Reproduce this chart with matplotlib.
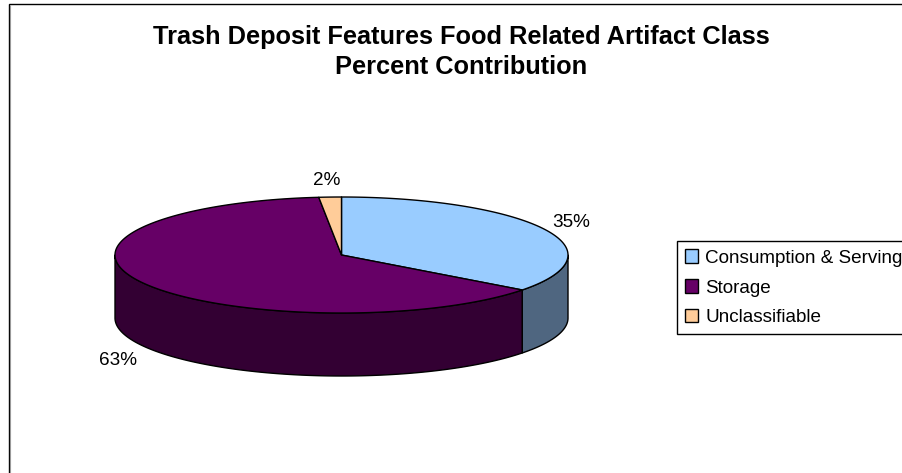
import numpy as np
import matplotlib
matplotlib.use("Agg")
import matplotlib.pyplot as plt
from matplotlib.patches import Polygon, Patch, Rectangle

title = "Trash Deposit Features Food Related Artifact Class\nPercent Contribution"
categories = ["Consumption & Serving", "Storage", "Unclassifiable"]
values = [35.3, 63.1, 1.6]
pct_labels = ["35%", "63%", "2%"]
top_colors = ["#99CCFF", "#660066", "#FFCC99"]
side_colors = ["#4F6680", "#330033", "#806650"]

plt.rcParams["font.family"] = ["Liberation Sans", "DejaVu Sans"]

fig = plt.figure(figsize=(9.02, 4.73), dpi=100)
ax = fig.add_axes([0, 0, 1, 1])
ax.set_xlim(0, 902)
ax.set_ylim(473, 0)
ax.axis("off")

# outer chart frame
ax.add_patch(Rectangle((8.5, 4.5), 1000, 1000, fc="white", ec="black", lw=1.0, zorder=0))
ax.plot([9.8, 9.8], [6, 473], color="#999999", lw=0.8, zorder=0.5)

cx, cy, a, b, depth = 341.5, 255.0, 226.5, 58.0, 63.0


def arc(d0, d1):
    n = max(int(abs(d1 - d0)) * 2, 2)
    th = np.radians(np.linspace(d0, d1, n))
    return np.column_stack([cx + a * np.sin(th), cy - b * np.cos(th)])


edges = np.concatenate([[0], np.cumsum(values)]) / sum(values) * 360

# side walls (front half only)
for i in range(len(values)):
    d0, d1 = max(edges[i], 90), min(edges[i + 1], 270)
    if d1 <= d0:
        continue
    t = arc(d0, d1)
    low = t[::-1] + [0, depth]
    ax.add_patch(Polygon(np.vstack([t, low]), closed=True, fc=side_colors[i],
                         ec="black", lw=1.0, zorder=2, joinstyle="round"))

# top faces
for i in range(len(values)):
    t = arc(edges[i], edges[i + 1])
    ax.add_patch(Polygon(np.vstack([[cx, cy], t]), closed=True, fc=top_colors[i],
                         ec="black", lw=1.0, zorder=3, joinstyle="round"))

ax.text(461.5, 52, title, ha="center", va="center", fontsize=18.3, fontweight="bold",
        color="black", linespacing=1.36)

label_xy = [(571.5, 222), (118, 360), (326.5, 180)]
for s, (x, y) in zip(pct_labels, label_xy):
    ax.text(x, y, s, ha="center", va="center", fontsize=13.6, color="black")

handles = [Patch(fc=c, ec="black", lw=1.0) for c in top_colors]
leg = ax.legend(handles, categories, loc="upper left", bbox_to_anchor=(677 / 902, 1 - 241.5 / 473),
                fontsize=13.6, frameon=True, fancybox=False, framealpha=1, edgecolor="black",
                handlelength=0.7, handleheight=0.7, handletextpad=0.37, labelspacing=0.67,
                borderpad=0.42, borderaxespad=0, labelcolor="black")
leg.get_frame().set_linewidth(1.0)

fig.savefig("out.png", dpi=100)
